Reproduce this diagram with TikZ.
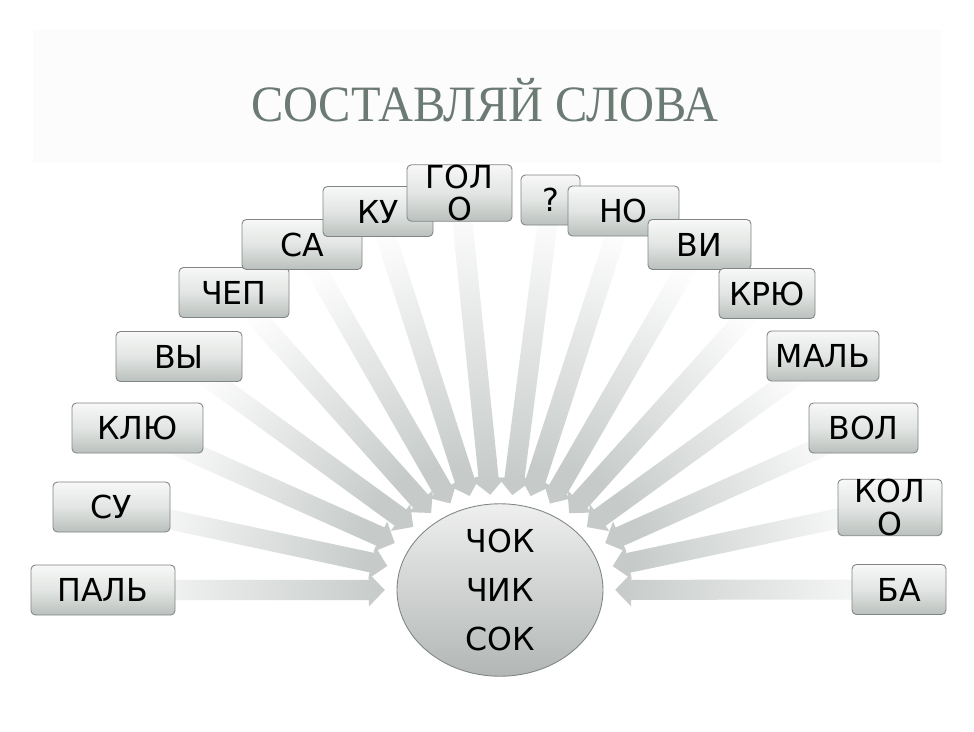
\documentclass[tikz,border=0pt]{standalone}
\usepackage{fontspec}
\setmainfont{DejaVu Sans}
\newfontfamily\titlefont{Liberation Serif}
\usetikzlibrary{calc,shapes.geometric}
\pgfdeclarelayer{bg}
\pgfsetlayers{bg,main}
\definecolor{titlecol}{RGB}{108,122,116}
\definecolor{titlebg}{RGB}{252,252,252}
\definecolor{boxtop}{RGB}{247,248,247}
\definecolor{boxmid}{RGB}{226,229,227}
\definecolor{boxbot}{RGB}{186,192,189}
\definecolor{boxline}{RGB}{128,134,131}
\definecolor{arrowlight}{RGB}{253,253,253}
\definecolor{arrowdark}{RGB}{198,203,201}
\definecolor{elltop}{RGB}{238,239,238}
\definecolor{ellbot}{RGB}{178,183,181}
\tikzset{
  wbox/.style={draw=boxline, line width=0.5pt, rounded corners=2.5pt,
    top color=boxtop, bottom color=boxbot, middle color=boxmid,
    minimum height=50*0.02cm, inner sep=0pt, align=center,
    font=\fontsize{18}{18.5}\selectfont, text=black},
  ellnode/.style={ellipse, draw=boxline, line width=0.5pt,
    top color=elltop, bottom color=ellbot,
    minimum width=206*0.02cm, minimum height=165*0.02cm, inner sep=0pt,
    align=center, font=\fontsize{18}{27.9}\selectfont, text=black},
  titlestyle/.style={font=\titlefont\fontsize{29}{30}\selectfont, text=titlecol, anchor=base}
}
\newcommand\wb[5]{\node[wbox, minimum width=#4*0.02cm] (#1) at (#2,-#3) {#5};}
\newcommand\sunarrow[1]{%
  \path let \p1=($(#1.center)-(ell.center)$),
            \n1={atan2(\y1,\x1)},
            \n2={veclen(\x1,\y1)},
            \n3={1/sqrt((cos(\n1)/58.6)^2+(sin(\n1)/47.0)^2)},
            \n4={\n2-\n3-6.8}
        in \pgfextra{\pgfmathsetmacro\tmpang{\n1}\xdef\arang{\tmpang}%
                     \pgfmathsetmacro\tmplen{\n4}\xdef\arlen{\tmplen}};%
  \begin{scope}[shift={(#1.center)}, rotate=\arang+180]
    \shade[left color=arrowlight, right color=arrowdark, shading angle=\arang+270]
      (0pt,-5.7pt) -- ({\arlen pt-9pt},-5.7pt) -- ({\arlen pt-9pt},-9.4pt)
      -- (\arlen pt,0pt) -- ({\arlen pt-9pt},9.4pt) -- ({\arlen pt-9pt},5.7pt)
      -- (0pt,5.7pt) -- cycle;
  \end{scope}
}
\begin{document}
\begin{tikzpicture}[x=0.02cm,y=0.02cm]
\useasboundingbox (0,0) rectangle (974,-731);
\begin{pgfonlayer}{bg}
  \fill[white] (0,0) rectangle (974,-731);
  \fill[titlebg] (33,-30) rectangle (942,-163);
\end{pgfonlayer}
\node[titlestyle] (title) at (485,-121) {\scalebox{0.95}[1]{СОСТАВЛЯЙ СЛОВА}};
\node[ellnode] (ell) at (500,-590) {ЧОК\\ЧИК\\СОК};
\wb{pal}{103}{590}{144}{ПАЛЬ}
\wb{su}{111.5}{507}{117}{СУ}
\wb{klu}{137.5}{428}{131}{КЛЮ}
\wb{vy}{179}{356.5}{126}{ВЫ}
\wb{chep}{234}{292.5}{110}{ЧЕП}
\wb{sa}{302}{244.5}{120}{СА}
\wb{ku}{378}{211.5}{110}{КУ}
\wb{golo}{459.5}{193}{105}{ГОЛ\\О}
\wb{q}{550.5}{200}{59}{?}
\wb{no}{623.5}{211}{111}{НО}
\wb{vi}{699.5}{244.5}{103}{ВИ}
\wb{kru}{767}{293.5}{96}{КРЮ}
\wb{mal}{823}{356}{112}{МАЛЬ}
\wb{vol}{863.5}{428}{109}{ВОЛ}
\wb{kolo}{890}{507.5}{104}{КОЛ\\О}
\wb{ba}{899}{589.5}{94}{БА}
\begin{pgfonlayer}{bg}
  \foreach \b in {pal,su,klu,vy,chep,sa,ku,golo,q,no,vi,kru,mal,vol,kolo,ba}{\sunarrow{\b}}
\end{pgfonlayer}
\end{tikzpicture}
\end{document}
